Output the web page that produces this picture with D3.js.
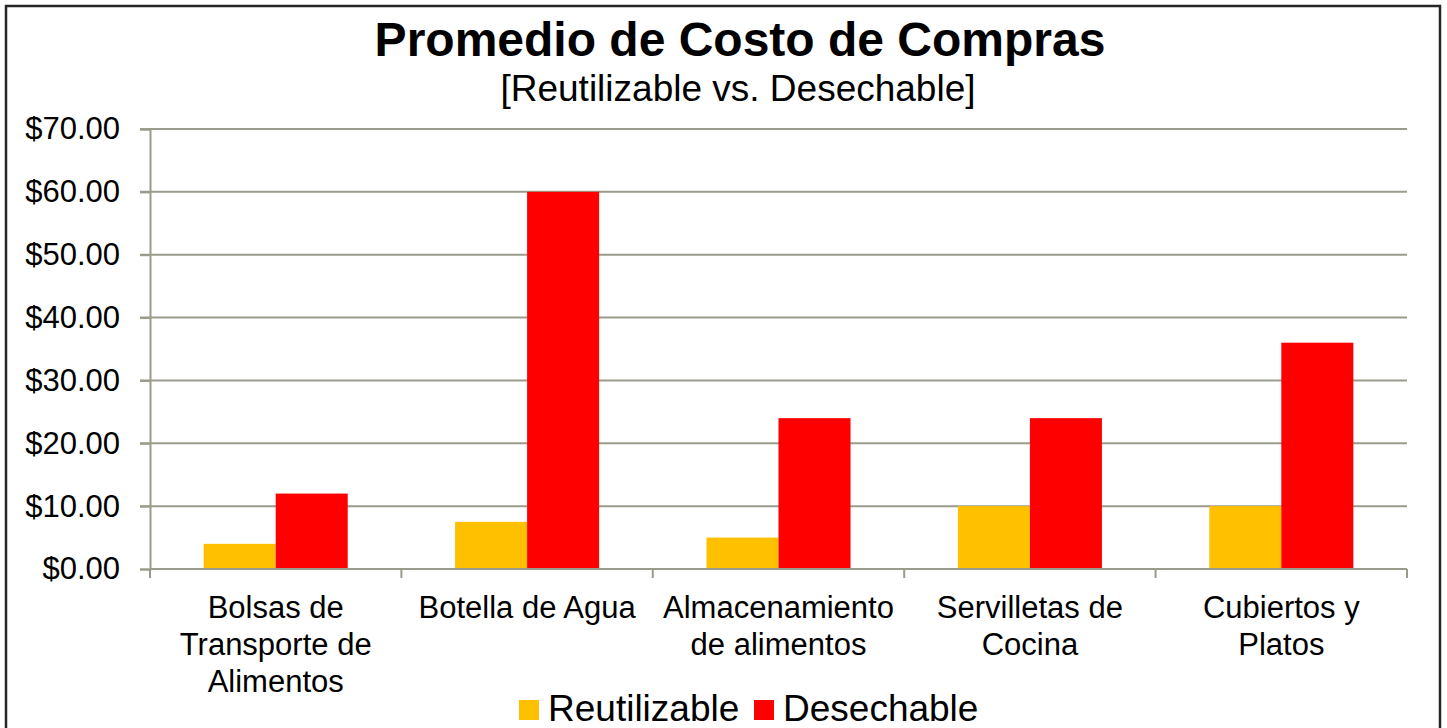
<!doctype html>
<html>
<head>
<meta charset="utf-8">
<title>Promedio de Costo de Compras</title>
<script src="https://d3js.org/d3.v7.min.js"></script>
<style>
  body { margin: 0; background: #fff; }
  svg { display: block; font-family: Arial, "Liberation Sans", sans-serif; }
  .axis path, .axis line { stroke: #9b9b8b; stroke-width: 2; }
  .grid line { stroke: #9b9b8b; stroke-width: 2; }
</style>
</head>
<body>
<script>
  // data
  var categories = [
    ["Bolsas de", "Transporte de", "Alimentos"],
    ["Botella de Agua"],
    ["Almacenamiento", "de alimentos"],
    ["Servilletas de", "Cocina"],
    ["Cubiertos y", "Platos"]
  ];
  var seriesNames = ["Reutilizable", "Desechable"];
  var reutilizable = [4, 7.5, 5, 10, 10];
  var desechable = [12, 60, 24, 24, 36];
  var yTicks = [0, 10, 20, 30, 40, 50, 60, 70];
  var colors = ["#ffc000", "#ff0000"];

  var W = 1447, H = 728;
  var margin = {top: 129, right: 40, bottom: 159, left: 150};
  var width = 1407 - margin.left, height = 569 - margin.top;

  var svg = d3.select("body").append("svg").attr("width", W).attr("height", H);

  // outer frame
  svg.append("rect").attr("x", 6).attr("y", 6).attr("width", 1434).attr("height", 740)
     .attr("fill", "none").attr("stroke", "#262626").attr("stroke-width", 2.5);

  svg.append("text").attr("x", 740).attr("y", 56).attr("text-anchor", "middle")
     .attr("font-size", 48).attr("font-weight", "bold").text("Promedio de Costo de Compras");
  svg.append("text").attr("x", 738).attr("y", 101).attr("text-anchor", "middle")
     .attr("font-size", 37).text("[Reutilizable vs. Desechable]");

  var g = svg.append("g").attr("transform", "translate(" + margin.left + "," + margin.top + ")");

  var x0 = d3.scaleBand().domain(d3.range(categories.length)).range([0, width]);
  var x1 = d3.scaleBand().domain([0, 1]).range([0, x0.bandwidth() * 0.573]);
  var yscale = d3.scaleLinear().domain([0, 70]).range([height, 0]);

  // gridlines
  g.append("g").attr("class", "grid").selectAll("line").data(yTicks.slice(1)).enter().append("line")
   .attr("x1", -10).attr("x2", width).attr("y1", d => yscale(d)).attr("y2", d => yscale(d));

  // y axis
  var yaxis = d3.axisLeft(yscale).tickValues(yTicks).tickSize(10).tickPadding(20)
                .tickFormat(d => "$" + d3.format(".2f")(d));
  var ya = g.append("g").attr("class", "axis").call(yaxis);
  ya.selectAll("text").attr("font-size", 31).attr("fill", "#000");

  // bars
  var series = [reutilizable, desechable];
  var off = (x0.bandwidth() - x1.range()[1]) / 2;
  series.forEach(function (vals, si) {
    g.append("g").selectAll("rect").data(vals).enter().append("rect")
     .attr("x", (d, i) => x0(i) + off + x1(si))
     .attr("width", x1.bandwidth())
     .attr("y", d => yscale(d))
     .attr("height", d => height - yscale(d))
     .attr("fill", colors[si]);
  });

  // x axis with ticks at category boundaries
  var xa = g.append("g").attr("class", "axis").attr("transform", "translate(0," + height + ")");
  xa.append("line").attr("x1", 0).attr("x2", width);
  xa.selectAll("line.tk").data(d3.range(categories.length + 1)).enter().append("line")
    .attr("class", "tk")
    .attr("x1", d => d * x0.step()).attr("x2", d => d * x0.step())
    .attr("y1", 0).attr("y2", 9);

  // category labels
  var lab = g.append("g").selectAll("text").data(categories).enter().append("text")
    .attr("text-anchor", "middle").attr("font-size", 31)
    .attr("transform", (d, i) => "translate(" + (x0(i) + x0.bandwidth() / 2) + "," + (height + 49) + ")");
  lab.selectAll("tspan").data(d => d).enter().append("tspan")
    .attr("x", 0).attr("dy", (d, i) => i === 0 ? 0 : 37).text(d => d);

  // legend
  var legendX = [519, 754];
  var lg = svg.append("g").selectAll("g").data(seriesNames).enter().append("g")
    .attr("transform", (d, i) => "translate(" + legendX[i] + ",700)");
  lg.append("rect").attr("width", 20).attr("height", 20).attr("fill", (d, i) => colors[i]);
  lg.append("text").attr("x", 29).attr("y", 20.5).attr("font-size", 37).text(d => d);
</script>
</body>
</html>
